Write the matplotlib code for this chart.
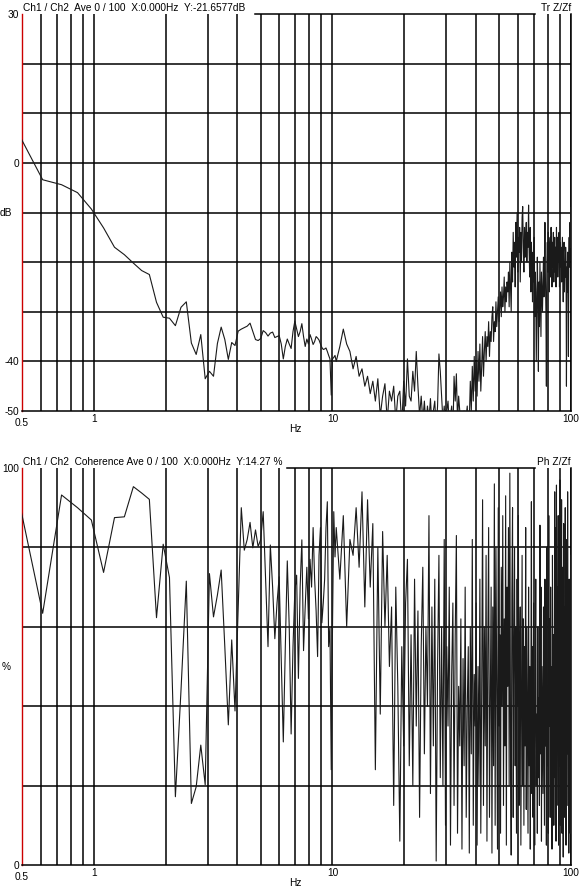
import numpy as np
import matplotlib
matplotlib.use("Agg")
import matplotlib.pyplot as plt
from matplotlib.ticker import FixedLocator, NullFormatter

plt.rcParams['font.family'] = ['Liberation Sans', 'DejaVu Sans']

# FFT bin spacing of the analyser (500 Hz / 4096 points)
df = 250 / 2048

# transfer function Z/Zf in dB, bins 4..84 (0.49 - 10.3 Hz)
tr_lo = [5.5, -3.4, -4.4, -6.0, -9.3, -13.1, -17.0, -18.5, -20.2, -21.7,
         -22.5, -28.1, -31.1, -31.3, -32.8, -29.1, -28.0, -36.3, -38.6, -34.6,
         -43.5, -42.0, -43.0, -36.4, -33.1, -35.6, -39.6, -36.2, -36.8, -33.9,
         -33.5, -33.2, -32.9, -32.3, -34.0, -35.6, -35.8, -35.4, -33.8, -34.2,
         -34.9, -34.3, -34.1, -35.2, -35.0, -34.8, -36.5, -39.5, -37.0, -35.5,
         -36.5, -37.4, -34.0, -31.9, -33.5, -35.0, -34.0, -32.4, -35.0, -37.0,
         -35.5, -36.5, -34.6, -35.5, -36.6, -36.0, -35.0, -35.3, -35.7, -36.5,
         -37.2, -37.6, -37.5, -37.3, -38.0, -38.8, -39.5, -46.8, -39.5, -39.2,
         -38.8]

# transfer function, every 3rd bin from bin 85 (10.4 - 99.7 Hz)
tr_hi = [-40, -37, -33.5, -36.5, -38, -41.5, -39, -43, -41.5, -45,
         -43, -46.5, -44, -48, -43.5, -51, -47, -44.5, -52, -46,
         -48, -45, -52, -47, -46, -53, -44, -49, -39.5, -47,
         -48, -42, -46, -38, -45, -51, -47, -52, -48, -53,
         -49, -52, -47.5, -53, -50, -48, -54, -49, -38.5, -42,
         -47, -52, -49, -54, -50, -48, -53, -51, -49, -55,
         -43, -48, -42.5, -52, -47, -50, -55, -51, -53, -50,
         -54, -51, -49, -55, -52, -44, -50, -41, -48, -39,
         -46, -40, -47, -38, -44, -36.5, -46, -41, -35, -43,
         -38, -34, -40, -35, -37, -32, -39, -34, -36, -31,
         -29, -36, -32, -34, -28, -33, -30, -27, -32, -29,
         -26, -31, -25, -29, -27, -23, -30, -25, -28, -24,
         -26, -22, -29, -20, -25, -30, -18, -24, -14, -21,
         -16, -25, -12, -19, -10, -22, -15, -18, -13, -24,
         -14, -20, -11, -8.8, -17, -22, -13, -19, -15, -12,
         -20, -14, -17, -8.5, -18, -23, -13, -26, -16, -21,
         -28, -18, -24, -15, -31, -22, -26, -40, -29, -19,
         -27, -42, -24, -33, -20, -28, -35, -22, -26, -30,
         -24, -19, -27, -21, -12, -23, -30, -45, -20, -16,
         -22, -14, -19, -26, -17, -15, -23, -13, -20, -25,
         -16, -21, -14, -24, -18, -15, -22, -17, -25, -13,
         -19, -15, -23, -17, -20, -14, -25, -18, -16, -21,
         -17, -24, -19, -15, -22, -28, -18, -16, -26, -20,
         -23, -17, -20, -45, -21, -26, -18, -24, -39, -19,
         -15, -21, -12, -17, -9]

# coherence in %, same bins
coh_lo = [91.1, 63.4, 93.2, 90.0, 86.9, 73.7, 87.5, 87.7, 95.3, 93.7,
          92.1, 62.3, 80.8, 72.4, 17.2, 44, 71.5, 15.5, 19.7, 30.2,
          20.2, 73.4, 62.5, 68, 74.3, 55, 35.3, 56.7, 38.8, 65,
          90, 79.3, 82, 86.3, 79.9, 84.4, 80.2, 82, 89, 72,
          55, 80.6, 70, 57, 66, 72.6, 52, 31, 55, 76.6,
          60, 33, 55, 69, 73, 47, 70, 81.9, 54, 65,
          75, 62, 77, 70, 85, 72, 64, 52.5, 78, 85,
          61, 66, 72, 85, 91.5, 55, 60, 24, 60, 89,
          77.6]

coh_hi = [85, 72, 88, 60, 82, 78, 90, 75, 94, 65,
          92, 70, 86, 24, 80, 38, 84, 60, 78, 50,
          65, 15, 70, 45, 6, 55, 30, 66, 77, 25,
          58, 20, 72, 35, 64, 12, 55, 75, 28, 60,
          40, 88, 18, 65, 30, 72, 1, 50, 78, 22,
          60, 20, 82, 10, 55, 35, 70, 5, 48, 66,
          15, 58, 83, 8, 45, 30, 62, 4, 52, 25,
          70, 12, 40, 55, 3, 60, 28, 82, 10, 48,
          35, 66, 5, 50, 20, 72, 8, 44, 92, 15,
          60, 30, 78, 6, 55, 85, 12, 40, 70, 3,
          65, 25, 96, 10, 80, 45, 4, 90, 35, 58,
          8, 75, 40, 88, 15, 62, 30, 93, 5, 70,
          45, 85, 20, 98.7, 30, 2.5, 68, 90, 12, 55,
          80, 25, 60, 8, 72, 40, 88, 15, 50, 65,
          5, 45, 78, 20, 62, 10, 55, 30, 85, 14,
          60, 35, 8, 70, 25, 50, 4, 40, 91.5, 18,
          55, 12, 66, 30, 5, 48, 72, 20, 38, 8,
          60, 22, 42, 15, 85.6, 28, 70, 6, 50, 35,
          18, 65, 40, 10, 72, 30, 55, 5, 80, 25,
          45, 8, 88, 35, 62, 12, 70, 20, 50, 4,
          78, 30, 58, 10, 40, 94, 22, 85, 6, 95.7,
          15, 70, 35, 88, 5, 60, 25, 97, 10, 80,
          30, 92, 8, 75, 45, 2, 86, 20, 65, 12,
          90, 35, 5, 82, 50, 15, 94, 28, 60, 3,
          72, 20, 55, 8, 78]

freq_lo = df * np.arange(4, 4 + len(tr_lo))
freq_hi = df * np.arange(85, 85 + 3 * len(tr_hi), 3)
freq = np.concatenate([freq_lo, freq_hi])
tr = np.concatenate([tr_lo, tr_hi])
coh = np.concatenate([coh_lo, coh_hi])

minor_x = [0.6, 0.7, 0.8, 0.9, 2, 3, 4, 5, 6, 7, 8, 9,
           20, 30, 40, 50, 60, 70, 80, 90]

W, H = 581, 890
fig = plt.figure(figsize=(W / 100, H / 100), dpi=100)
ax1 = fig.add_axes([22 / W, 1 - 411 / H, 549 / W, 397 / H])
ax2 = fig.add_axes([22 / W, 1 - 865 / H, 549 / W, 397 / H])

fs = 7.3
lw_grid = 1.1
red = '#cc0000'


def setup(ax, ylim, ystep, ylabels, unit, title, tag, top_from):
    ax.set_xscale('log')
    ax.set_xlim(0.5, 100)
    ax.set_ylim(*ylim)
    ax.xaxis.set_major_locator(FixedLocator([1, 10, 100]))
    ax.xaxis.set_minor_locator(FixedLocator(minor_x))
    ax.xaxis.set_minor_formatter(NullFormatter())
    ax.set_xticklabels(['1', '10', '100'])
    ax.grid(which='both', axis='x', color='black', lw=lw_grid)
    for v in np.arange(ylim[0] + ystep, ylim[1], ystep):
        ax.axhline(v, color='black', lw=lw_grid, zorder=1)
    # the top frame line only runs between the header texts
    ax.axhline(ylim[1], xmin=top_from, xmax=0.934, color='black',
               lw=lw_grid, clip_on=False)
    ax.set_yticks(list(ylabels.keys()))
    ax.set_yticklabels(list(ylabels.values()))
    ax.tick_params(which='both', length=0, labelsize=fs, pad=2)
    ax.spines['top'].set_visible(False)
    ax.spines['left'].set_color(red)
    ax.spines['left'].set_linewidth(1.0)
    ax.spines['bottom'].set_linewidth(lw_grid)
    ax.spines['right'].set_linewidth(lw_grid)
    ax.text(0.0, -12 / 397, '0.5', transform=ax.transAxes, ha='center',
            va='center', fontsize=fs)
    ax.text(0.497, -18 / 397, 'Hz', transform=ax.transAxes, ha='center',
            va='center', fontsize=fs)
    ax.text(-16 / 549, 0.5, unit, transform=ax.transAxes, ha='center',
            va='center', fontsize=fs)
    ax.text(0.001, 1 + 6 / 397, title, transform=ax.transAxes, ha='left',
            va='center', fontsize=fs)
    ax.text(1.0, 1 + 6 / 397, tag, transform=ax.transAxes, ha='right',
            va='center', fontsize=fs)


setup(ax1, (-50, 30), 10, {-50: '-50', -40: '-40', 0: '0', 30: '30'}, 'dB',
      'Ch1 / Ch2  Ave 0 / 100  X:0.000Hz  Y:-21.6577dB', 'Tr Z/Zf', 0.424)
setup(ax2, (0, 100), 20, {0: '0', 100: '100'}, '%',
      'Ch1 / Ch2  Coherence Ave 0 / 100  X:0.000Hz  Y:14.27 %', 'Ph Z/Zf', 0.483)

ax1.plot(freq, tr, color='#1a1a1a', lw=0.8, zorder=3)
ax2.plot(freq, coh, color='#1a1a1a', lw=0.8, zorder=3)

fig.savefig('out.png', dpi=100)
